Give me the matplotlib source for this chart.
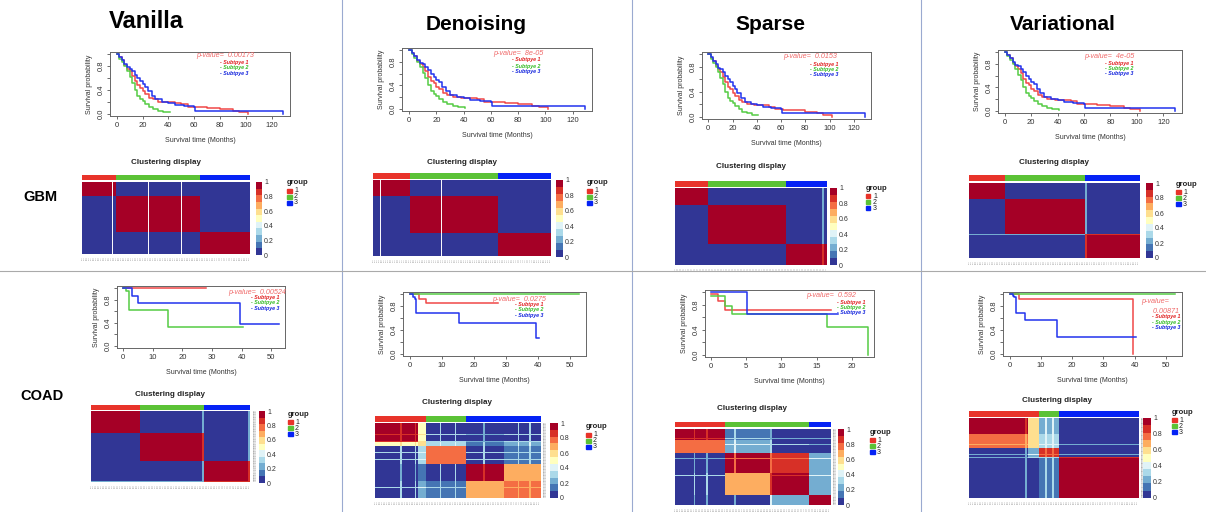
import numpy as np
import matplotlib.pyplot as plt
from matplotlib.colors import ListedColormap
from matplotlib.patches import Rectangle

plt.rcParams['font.family'] = ['Liberation Sans', 'DejaVu Sans']

# ---- data ----
methods = ['Vanilla', 'Denoising', 'Sparse', 'Variational']
cancers = ['GBM', 'COAD']
subtypes = ['Subtpye 1', 'Subtpye 2', 'Subtpye 3']

# GBM survival curves (months, survival probability), shared look in all 4 panels
gbm_t1 = [0, 2, 4, 6, 8, 10, 12, 14, 16, 18, 20, 22, 25, 28, 32, 38, 45, 50, 55, 62, 70, 80, 90, 95, 102]
gbm_s1 = [1.0, 0.95, 0.9, 0.82, 0.76, 0.72, 0.64, 0.55, 0.48, 0.44, 0.38, 0.33, 0.27, 0.24, 0.2, 0.19,
          0.18, 0.16, 0.12, 0.11, 0.1, 0.08, 0.05, 0.03, 0.0]
gbm_t2 = [0, 2, 4, 6, 8, 10, 12, 14, 16, 18, 20, 22, 25, 28, 32, 36, 41]
gbm_s2 = [1.0, 0.93, 0.87, 0.8, 0.72, 0.62, 0.52, 0.4, 0.3, 0.25, 0.22, 0.17, 0.12, 0.08, 0.05, 0.03, 0.02]
gbm_t3 = [0, 2, 4, 6, 8, 10, 12, 14, 16, 18, 20, 22, 24, 27, 30, 35, 40, 45, 52, 60, 61, 129]
gbm_s3 = [1.0, 0.96, 0.9, 0.84, 0.78, 0.76, 0.72, 0.66, 0.6, 0.55, 0.5, 0.45, 0.38, 0.3, 0.24, 0.2,
          0.18, 0.15, 0.13, 0.12, 0.05, 0.0]
gbm_pvals = ['0.00173', '8e-05', '0.0153', '4e-05']

# COAD survival curves per method, subtypes 1..3
van_coad_t = [[0, 28], [0, 1, 2, 15, 40.5], [0, 3, 5, 39.5, 52.5]]
van_coad_s = [[1, 1], [1, 0.95, 0.63, 0.32, 0.32], [1, 0.87, 0.75, 0.37, 0.37]]
den_coad_t = [[0, 3, 5, 27.5], [0, 53], [0, 1, 1.5, 2, 15.3, 39.5, 40.5]]
den_coad_s = [[1, 0.92, 0.85, 0.85], [1, 1], [1, 0.96, 0.93, 0.68, 0.52, 0.26, 0.26]]
spa_coad_t = [[0, 1, 2, 17], [0, 2, 3, 16.5, 22.3], [0, 5.1, 18]]
spa_coad_s = [[0.97, 0.87, 0.72, 0.72], [0.95, 0.78, 0.65, 0.44, 0.0], [1, 0.66, 0.66]]
var_coad_t = [[0, 3, 39.5], [0, 53], [0, 1, 1.5, 2, 5, 15.3, 40.5]]
var_coad_s = [[1, 0.93, 0.0], [1, 1], [1, 0.97, 0.95, 0.68, 0.57, 0.28, 0.28]]
coad_pvals = ['0.00524', '0.0275', '0.592', '0.00871']

# consensus heatmaps: group sizes, block sizes (rows, cols), block values, light stripes, white gaps
van_gbm_groups = [20, 50, 30]
van_gbm_vals = [[1, 0, 0], [0, 1, 0], [0, 0, 1]]
van_gbm_gaps = [18, 39, 59]
den_gbm_groups = [21, 49, 30]
den_gbm_vals = [[1, 0, 0], [0, 1, 0], [0, 0, 1]]
den_gbm_gaps = [4, 38]
spa_gbm_groups = [22, 51, 27]
spa_gbm_vals = [[1, 0, 0], [0, 1, 0], [0, 0, 1]]
spa_gbm_stripes = [97]
var_gbm_groups = [21, 47, 32]
var_gbm_vals = [[1, 0, 0], [0, 1, 0], [0, 0, 1]]
var_gbm_stripes = [68]

van_coad_groups = [31, 40, 29]
van_coad_vals = [[1, 0, 0], [0, 1, 0], [0, 0, 1]]
van_coad_stripes = [70, 99]
den_coad_groups = [31, 24, 45]
den_coad_blocks = [26, 5, 24, 23, 22]
den_coad_vals = [[0.95, 0.5, 0.05, 0.0, 0.05],
                 [0.5, 0.6, 0.3, 0.15, 0.2],
                 [0.05, 0.3, 0.8, 0.05, 0.1],
                 [0.0, 0.15, 0.05, 0.95, 0.72],
                 [0.05, 0.2, 0.1, 0.72, 0.78]]
den_coad_stripes = [15, 24, 39, 48, 65, 86, 93]
spa_coad_groups = [32, 54, 14]
spa_coad_rows = [14, 18, 26, 29, 13]
spa_coad_cols = [32, 29, 25, 14]
spa_coad_vals = [[0.95, 0.1, 0.02, 0.0],
                 [0.8, 0.25, 0.05, 0.0],
                 [0.02, 0.92, 0.88, 0.2],
                 [0.05, 0.68, 0.95, 0.25],
                 [0.0, 0.02, 0.25, 0.95]]
spa_coad_stripes = [12, 20, 38, 61]
var_coad_groups = [41, 12, 47]
var_coad_rows = [20, 17, 12, 51]
var_coad_cols = [35, 6, 12, 47]
var_coad_vals = [[0.95, 0.6, 0.2, 0.0],
                 [0.75, 0.55, 0.3, 0.02],
                 [0.0, 0.2, 0.9, 0.02],
                 [0.0, 0.05, 0.1, 0.95]]
var_coad_stripes = [33, 45, 49]

# ---- styles ----
W, H = 1206, 512
curve_colors = ['#f04848', '#55cc44', '#2233ee']
label_colors = ['#e02020', '#33bb22', '#1122dd']
group_colors = ['#e8332a', '#5bc236', '#0522f5']
hm_cmap = plt.get_cmap('RdYlBu_r', 11)

fig = plt.figure(figsize=(W / 100, H / 100), dpi=100)


def fig_axes(x0, y0, x1, y1):
    return fig.add_axes([x0 / W, 1 - y1 / H, (x1 - x0) / W, (y1 - y0) / H])


def fig_text(x, y, s, **kw):
    return fig.text(x / W, 1 - y / H, s, **kw)


def draw_survival(rect, times, survs, xticks, ptext, p_xy, leg_x, leg_y):
    ax = fig_axes(*rect)
    for t, s, c in zip(times, survs, curve_colors):
        ax.step(t, s, where='post', color=c, lw=1.1)
    tmax = max(max(t) for t in times)
    ax.set_xlim(-0.04 * tmax, 1.04 * tmax)
    ax.set_ylim(-0.04, 1.04)
    ax.set_xticks(xticks)
    ax.set_xticklabels([str(v) for v in xticks])
    ax.set_yticks([0, 0.2, 0.4, 0.6, 0.8, 1.0])
    ax.set_yticklabels(['0.0', '', '0.4', '', '0.8', ''])
    ax.tick_params(labelsize=5.5, length=2.5, width=0.5, pad=1.5, colors='#333333')
    ax.tick_params(axis='y', labelrotation=90)
    for lab in ax.get_yticklabels():
        lab.set_va('center')
    for sp in ax.spines.values():
        sp.set_color('#666666')
        sp.set_linewidth(0.7)
    ax.set_xlabel('Survival time (Months)', fontsize=5, labelpad=6, color='#333333')
    ax.set_ylabel('Survival probability', fontsize=5, labelpad=3, color='#333333')
    ax.text(p_xy[0], p_xy[1], ptext, transform=ax.transAxes, fontsize=5.2,
            style='italic', color='#f06a6a', va='center', linespacing=1.6)
    for i in range(3):
        ax.text(leg_x, leg_y[i], '- ' + subtypes[i], transform=ax.transAxes, fontsize=3.8,
                style='italic', weight='bold', color=label_colors[i], va='center')


def draw_heatmap(rect, bar_rect, cb_rect, leg_xy, title_xy, groups, rows, cols, vals,
                 stripes=(), gaps=(), right_labels=False):
    m = np.repeat(np.repeat(np.array(vals, float), rows, axis=0), cols, axis=1)
    nr, nc = m.shape
    if len(stripes):
        mask = np.zeros_like(m, dtype=bool)
        for k in stripes:
            mask[k, :] = True
            mask[:, k] = True
        m[mask] = 0.6 * m[mask] + 0.25
    ax = fig_axes(*rect)
    ax.imshow(m, cmap=hm_cmap, vmin=0, vmax=1, aspect='auto', interpolation='nearest')
    for g in gaps:
        ax.axvline(g - 0.5, color='white', lw=0.7)
    ax.set_xticks(range(nc))
    ax.set_xticklabels(['S%02d' % i for i in range(nc)], rotation=90, fontsize=1.5, color='#999999')
    ax.tick_params(axis='x', length=0, pad=2)
    if right_labels:
        ax.yaxis.tick_right()
        ax.set_yticks(range(nr))
        ax.set_yticklabels(['S%02d' % i for i in range(nr)], fontsize=1.5, color='#999999')
        ax.tick_params(axis='y', length=0, pad=2)
    else:
        ax.set_yticks([])
    for sp in ax.spines.values():
        sp.set_visible(False)

    bx = fig_axes(*bar_rect)
    bx.imshow(np.repeat(np.arange(3), groups)[None, :], cmap=ListedColormap(group_colors),
              vmin=0, vmax=2, aspect='auto', interpolation='nearest')
    bx.axis('off')

    cx = fig_axes(*cb_rect)
    cx.imshow(np.linspace(1, 0, 11)[:, None], cmap=hm_cmap, vmin=0, vmax=1, aspect='auto',
              extent=[0, 1, 0, 1], interpolation='nearest')
    cx.set_xticks([])
    cx.yaxis.tick_right()
    cx.set_yticks([0, 0.2, 0.4, 0.6, 0.8, 1.0])
    cx.set_yticklabels(['0', '0.2', '0.4', '0.6', '0.8', '1'])
    cx.tick_params(axis='y', length=0, pad=1.5, labelsize=5, colors='#333333')
    for sp in cx.spines.values():
        sp.set_visible(False)

    fig_text(title_xy[0], title_xy[1], 'Clustering display', fontsize=5.8, weight='bold',
             ha='center', va='center', color='#222222')
    lx, ly = leg_xy
    fig_text(lx, ly, 'group', fontsize=5.5, weight='bold', va='center', color='#222222')
    for i, c in enumerate(group_colors):
        yy = ly + 8 + 6 * i
        fig.add_artist(Rectangle((lx / W, 1 - (yy + 2.2) / H), 4.5 / W, 4.5 / H,
                                 transform=fig.transFigure, color=c))
        fig_text(lx + 7, yy, str(i + 1), fontsize=5, va='center', color='#222222')


# ---- separators and headers ----
for x in [342, 632, 921]:
    fig.add_artist(plt.Line2D([x / W, x / W], [0, 1], color='#9aaad0', lw=0.8))
fig.add_artist(plt.Line2D([0, 1], [1 - 271 / H, 1 - 271 / H], color='#aaaaaa', lw=0.8))

title_pos = [(146, 22), (476, 25), (770, 25), (1063, 25)]
title_size = [17, 15, 15, 15]
for name, (x, y), fs in zip(methods, title_pos, title_size):
    fig_text(x, y, name, fontsize=fs, weight='bold', ha='center', va='center')
fig_text(40, 197, cancers[0], fontsize=10.5, weight='bold', ha='center', va='center')
fig_text(42, 396, cancers[1], fontsize=10.5, weight='bold', ha='center', va='center')

# ---- GBM survival ----
gbm_rects = [(110, 52, 290, 116), (402, 48, 592, 111), (702, 52, 871, 119), (998, 50, 1182, 113)]
gbm_p_xy = [(0.48, 0.94), (0.48, 0.92), (0.48, 0.93), (0.47, 0.90)]
gbm_leg_x = [0.61, 0.58, 0.64, 0.58]
gbm_leg_y = [[0.84, 0.75, 0.66], [0.81, 0.71, 0.62], [0.82, 0.74, 0.67], [0.79, 0.70, 0.62]]
for i in range(4):
    draw_survival(gbm_rects[i], [gbm_t1, gbm_t2, gbm_t3], [gbm_s1, gbm_s2, gbm_s3],
                  [0, 20, 40, 60, 80, 100, 120], 'p-value=  ' + gbm_pvals[i],
                  gbm_p_xy[i], gbm_leg_x[i], gbm_leg_y[i])

# ---- COAD survival ----
coad_rects = [(117, 286, 285, 348), (403, 292, 586, 356), (705, 290, 874, 357), (1003, 292, 1182, 356)]
coad_times = [van_coad_t, den_coad_t, spa_coad_t, var_coad_t]
coad_survs = [van_coad_s, den_coad_s, spa_coad_s, var_coad_s]
coad_xticks = [[0, 10, 20, 30, 40, 50], [0, 10, 20, 30, 40, 50], [0, 5, 10, 15, 20], [0, 10, 20, 30, 40, 50]]
coad_ptext = ['p-value=  ' + coad_pvals[0], 'p-value=  ' + coad_pvals[1],
              'p-value=  ' + coad_pvals[2], 'p-value=\n      ' + coad_pvals[3]]
coad_p_xy = [(0.66, 0.89), (0.49, 0.89), (0.60, 0.92), (0.77, 0.77)]
coad_leg_x = [0.80, 0.61, 0.78, 0.83]
coad_leg_y = [[0.82, 0.73, 0.63], [0.80, 0.72, 0.63], [0.81, 0.74, 0.67], [0.61, 0.53, 0.45]]
for i in range(4):
    draw_survival(coad_rects[i], coad_times[i], coad_survs[i], coad_xticks[i], coad_ptext[i],
                  coad_p_xy[i], coad_leg_x[i], coad_leg_y[i])

# ---- GBM heatmaps ----
draw_heatmap((82, 182, 250, 254), (82, 175, 250, 180), (256, 182, 262, 255), (287, 183), (166, 162),
             van_gbm_groups, van_gbm_groups, van_gbm_groups, van_gbm_vals, gaps=van_gbm_gaps)
draw_heatmap((373, 180, 551, 256), (373, 173, 551, 179), (556, 180, 563, 257), (587, 183), (462, 162),
             den_gbm_groups, den_gbm_groups, den_gbm_groups, den_gbm_vals, gaps=den_gbm_gaps)
draw_heatmap((675, 188, 827, 265), (675, 181, 827, 187), (830, 188, 837, 265), (866, 188), (751, 167),
             spa_gbm_groups, spa_gbm_groups, spa_gbm_groups, spa_gbm_vals, stripes=spa_gbm_stripes)
draw_heatmap((969, 183, 1139, 258), (969, 175, 1139, 181), (1146, 183, 1153, 258), (1176, 184), (1054, 162),
             var_gbm_groups, var_gbm_groups, var_gbm_groups, var_gbm_vals, stripes=var_gbm_stripes)

# ---- COAD heatmaps ----
draw_heatmap((91, 411, 250, 482), (91, 405, 250, 410), (259, 411, 265, 483), (288, 414), (170, 395),
             van_coad_groups, van_coad_groups, van_coad_groups, van_coad_vals,
             stripes=van_coad_stripes, right_labels=True)
draw_heatmap((375, 423, 540, 498), (375, 416, 540, 422), (550, 423, 558, 498), (586, 427), (457, 403),
             den_coad_groups, den_coad_blocks, den_coad_blocks, den_coad_vals,
             stripes=den_coad_stripes, right_labels=True)
draw_heatmap((675, 429, 830, 505), (675, 422, 830, 427), (838, 429, 844, 505), (870, 432), (752, 408),
             spa_coad_groups, spa_coad_rows, spa_coad_cols, spa_coad_vals,
             stripes=spa_coad_stripes, right_labels=True)
draw_heatmap((969, 418, 1138, 498), (969, 411, 1138, 417), (1143, 418, 1151, 498), (1172, 412), (1057, 401),
             var_coad_groups, var_coad_rows, var_coad_cols, var_coad_vals,
             stripes=var_coad_stripes, right_labels=True)

fig.savefig('out.png', dpi=100)
